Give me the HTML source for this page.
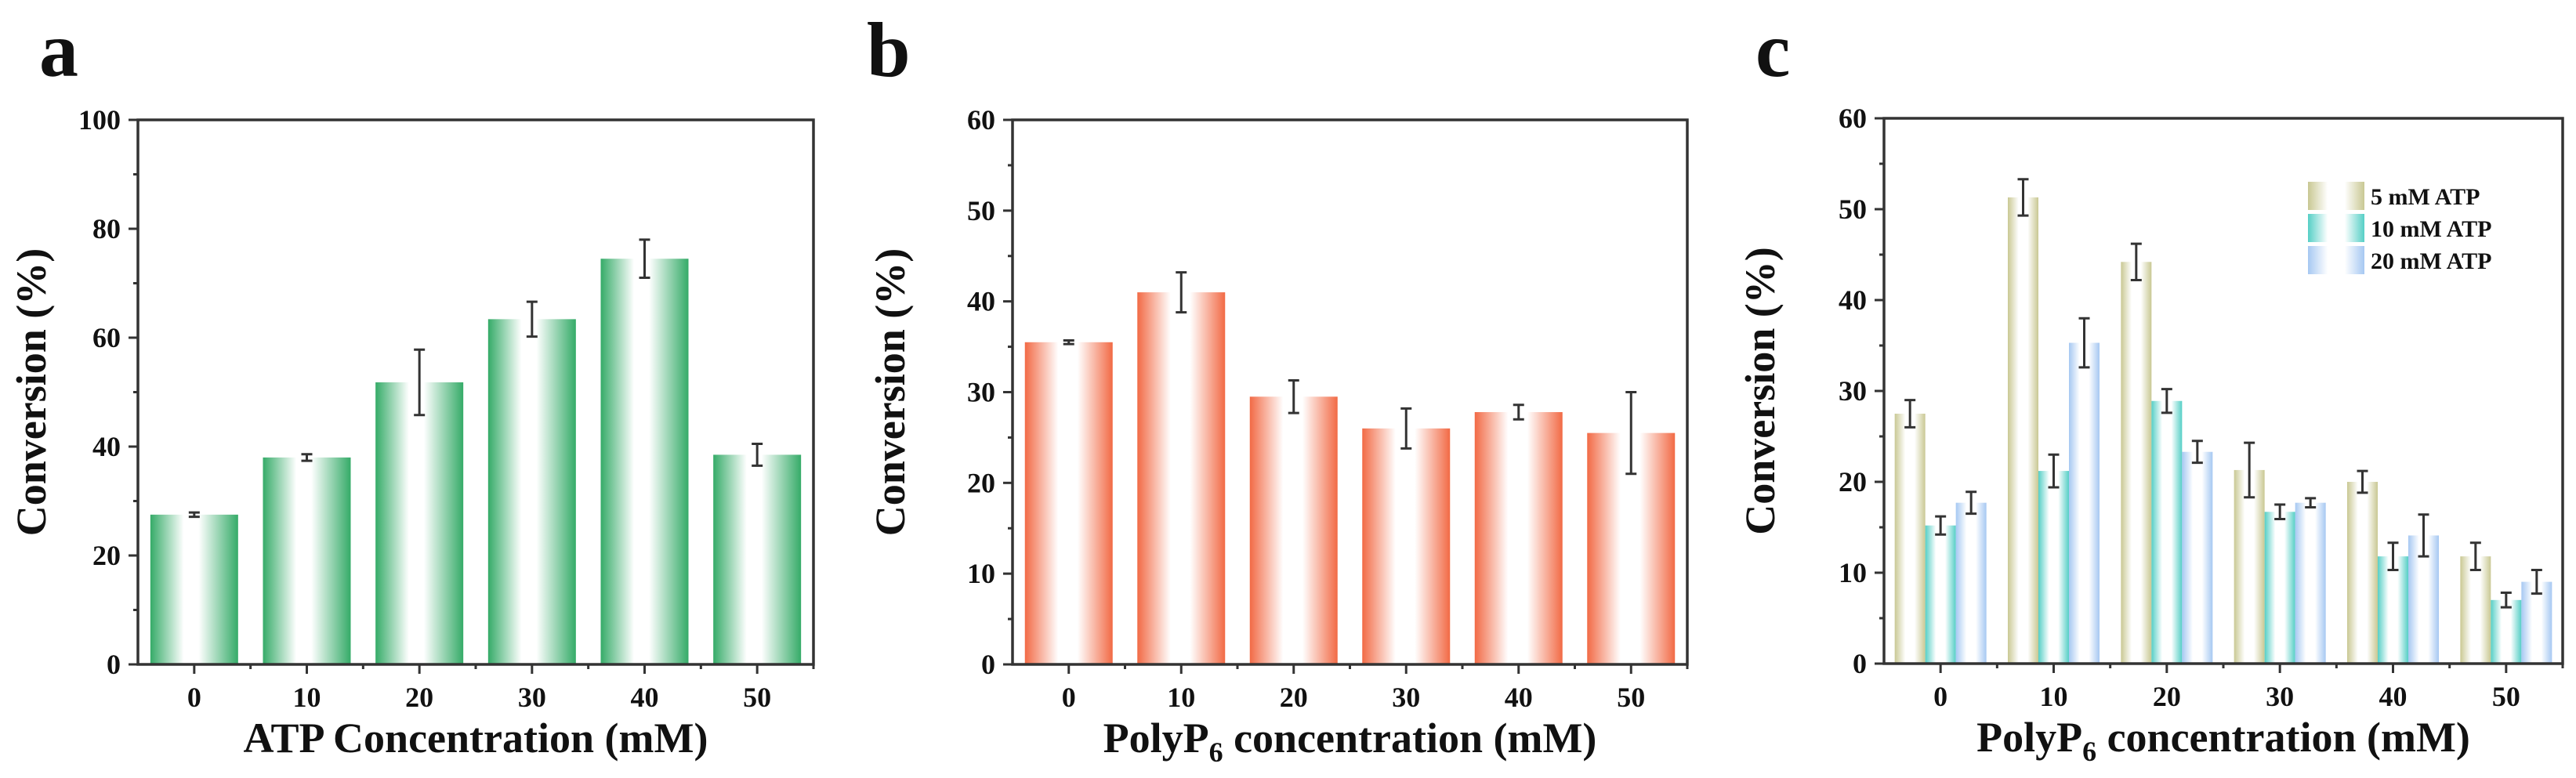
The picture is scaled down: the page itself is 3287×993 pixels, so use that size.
<!DOCTYPE html>
<html><head><meta charset="utf-8"><style>
html,body{margin:0;padding:0;background:#fff;}
svg{display:block;font-family:"Liberation Serif",serif;font-weight:bold;}
</style></head><body>
<svg id="fig" width="3287" height="993" viewBox="0 0 3287 993" xmlns="http://www.w3.org/2000/svg">
<defs>
<linearGradient id="gGreen" x1="0" x2="1" y1="0" y2="0"><stop offset="0" stop-color="#35ab68"/><stop offset="0.38" stop-color="#fff"/><stop offset="0.55" stop-color="#fff"/><stop offset="1" stop-color="#35ab68"/></linearGradient>
<linearGradient id="gOrange" x1="0" x2="1" y1="0" y2="0"><stop offset="0" stop-color="#f26a45"/><stop offset="0.38" stop-color="#fff"/><stop offset="0.6" stop-color="#fff"/><stop offset="1" stop-color="#f26a45"/></linearGradient>
<linearGradient id="gKhaki" x1="0" x2="1" y1="0" y2="0"><stop offset="0" stop-color="#c9c893"/><stop offset="0.35" stop-color="#fff"/><stop offset="0.65" stop-color="#fff"/><stop offset="1" stop-color="#c9c893"/></linearGradient>
<linearGradient id="gTeal" x1="0" x2="1" y1="0" y2="0"><stop offset="0" stop-color="#56cfc6"/><stop offset="0.35" stop-color="#fff"/><stop offset="0.65" stop-color="#fff"/><stop offset="1" stop-color="#56cfc6"/></linearGradient>
<linearGradient id="gBlue" x1="0" x2="1" y1="0" y2="0"><stop offset="0" stop-color="#a6c8f2"/><stop offset="0.35" stop-color="#fff"/><stop offset="0.65" stop-color="#fff"/><stop offset="1" stop-color="#a6c8f2"/></linearGradient>
</defs>
</svg>
<script>
const categories = [0, 10, 20, 30, 40, 50];
const aValues = [27.5, 38, 51.8, 63.4, 74.5, 38.5];
const aErrors = [0.4, 0.6, 6, 3.2, 3.5, 2];
const bValues = [35.5, 41, 29.5, 26, 27.8, 25.5];
const bErrors = [0.2, 2.2, 1.8, 2.2, 0.8, 4.5];
const c5Values = [27.5, 51.3, 44.2, 21.3, 20, 11.8];
const c5Errors = [1.5, 2, 2, 3, 1.2, 1.5];
const c10Values = [15.2, 21.2, 28.9, 16.7, 11.8, 7];
const c10Errors = [1, 1.8, 1.3, 0.8, 1.5, 0.8];
const c20Values = [17.7, 35.3, 23.3, 17.7, 14.1, 9];
const c20Errors = [1.2, 2.7, 1.2, 0.5, 2.3, 1.3];
const aTicks = [0, 20, 40, 60, 80, 100];
const bcTicks = [0, 10, 20, 30, 40, 50, 60];
const legendLabels = ["5 mM ATP", "10 mM ATP", "20 mM ATP"];

const svg = document.getElementById('fig');
const NS = 'http://www.w3.org/2000/svg';
function mk(tag, attrs, parent) {
  const e = document.createElementNS(NS, tag);
  for (const k in attrs) e.setAttribute(k, attrs[k]);
  (parent || svg).appendChild(e);
  return e;
}
function txt(s, attrs, parent) { const t = mk('text', attrs, parent); t.textContent = s; return t; }

function panel(cfg) {
  const g = mk('g', {});
  
  
  const L = cfg.left, R = cfg.right, T = cfg.top, B = cfg.bottom;
  const xs = v => L + (v + 5) / 60 * (R - L);
  const ys = v => B - v / cfg.ymax * (B - T);
  cfg.series.forEach((s, si) => {
    s.values.forEach((v, i) => {
      const cx = xs(categories[i]) + s.offset;
      const r = mk('rect', {x: cx - s.w / 2, y: ys(v), width: s.w, height: B - ys(v), fill: 'url(#' + s.grad + ')'}, g);
      
      
      const e = s.errors[i];
      const eb = mk('path', {d: `M${cx} ${ys(v + e)}V${ys(v - e)}M${cx - 7} ${ys(v + e)}H${cx + 7}M${cx - 7} ${ys(v - e)}H${cx + 7}`, stroke: '#333', 'stroke-width': 3, fill: 'none'}, g);
      
      
    });
  });
  const fr = mk('rect', {x: L, y: T, width: R - L, height: B - T, fill: 'none', stroke: '#333', 'stroke-width': 3.5}, g);
  
  
  const step = cfg.ticks[1] - cfg.ticks[0];
  cfg.ticks.forEach((t, i) => {
    mk('line', {x1: L - 12, x2: L, y1: ys(t), y2: ys(t), stroke: '#333', 'stroke-width': 3}, g);
    if (i < cfg.ticks.length - 1) mk('line', {x1: L - 6, x2: L, y1: ys(t + step / 2), y2: ys(t + step / 2), stroke: '#333', 'stroke-width': 3}, g);
    const tl = txt(String(t), {x: L - 22, y: ys(t) + 12, 'font-size': 36, 'text-anchor': 'end', fill: '#111'}, g);
    
    
  });
  categories.forEach((c, i) => {
    const x = xs(c);
    mk('line', {x1: x, x2: x, y1: B, y2: B + 12, stroke: '#333', 'stroke-width': 3}, g);
    mk('line', {x1: x + (xs(10) - xs(0)) / 2, x2: x + (xs(10) - xs(0)) / 2, y1: B, y2: B + 6, stroke: '#333', 'stroke-width': 3}, g);
    const tl = txt(String(c), {x: x, y: B + 54, 'font-size': 36, 'text-anchor': 'middle', fill: '#111'}, g);
    
    
  });
  const yt = txt('Conversion (%)', {x: 0, y: 0, 'font-size': 54, 'text-anchor': 'middle', transform: `translate(${cfg.ytx},${(T + B) / 2}) rotate(-90)`, fill: '#111'}, g);
  
  
  const xt = txt('', {x: (L + R) / 2, y: B + 112, 'font-size': 54, 'text-anchor': 'middle', fill: '#111'}, g);
  xt.innerHTML = cfg.xtitle;
  
  
  const pl = txt(cfg.letter, {x: cfg.letterX, y: 97, 'font-size': 100, fill: '#111'}, g);
  
  
  return g;
}

panel({name: 'panel-a-atp', left: 176, right: 1038, top: 153, bottom: 848, ymax: 100, ticks: aTicks, ytx: 58, letter: 'a', letterX: 50,
  xtitle: 'ATP Concentration (mM)',
  series: [{key: 'atp', values: aValues, errors: aErrors, grad: 'gGreen', offset: 0, w: 112}]});
panel({name: 'panel-b-polyp6', left: 1292, right: 2153, top: 153, bottom: 848, ymax: 60, ticks: bcTicks, ytx: 1154, letter: 'b', letterX: 1106,
  xtitle: 'PolyP<tspan font-size="36" dy="12">6</tspan><tspan dy="-12"> concentration (mM)</tspan>',
  series: [{key: 'polyp6', values: bValues, errors: bErrors, grad: 'gOrange', offset: 0, w: 112}]});
const gc = panel({name: 'panel-c-polyp6-atp', left: 2404, right: 3270, top: 151, bottom: 847, ymax: 60, ticks: bcTicks, ytx: 2264, letter: 'c', letterX: 2240,
  xtitle: 'PolyP<tspan font-size="36" dy="12">6</tspan><tspan dy="-12"> concentration (mM)</tspan>',
  series: [
    {key: 'atp-5mm', values: c5Values, errors: c5Errors, grad: 'gKhaki', offset: -39, w: 39},
    {key: 'atp-10mm', values: c10Values, errors: c10Errors, grad: 'gTeal', offset: 0, w: 39},
    {key: 'atp-20mm', values: c20Values, errors: c20Errors, grad: 'gBlue', offset: 39, w: 39}]});
const grads = ['gKhaki', 'gTeal', 'gBlue'];
const lg = mk('g', {}, gc);


legendLabels.forEach((lab, i) => {
  const y = 232 + i * 41;
  const sw = mk('rect', {x: 2945, y: y, width: 72, height: 36, fill: 'url(#' + grads[i] + ')'}, lg);
  
  
  const t = txt(lab, {x: 3025, y: y + 29, 'font-size': 30, fill: '#111'}, lg);
  
  
});
</script>
</body></html>
